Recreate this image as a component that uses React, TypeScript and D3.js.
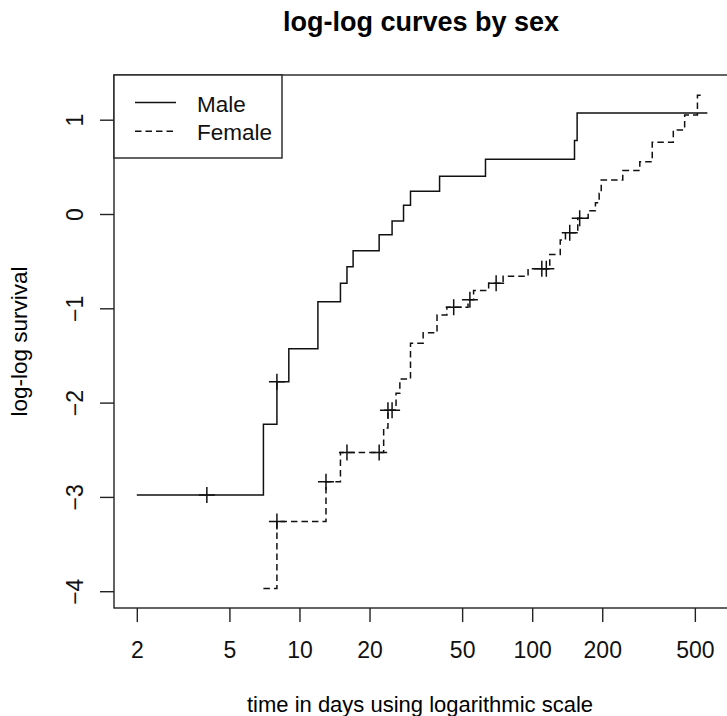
import React, { useEffect, useRef } from "react";
import * as d3 from "d3";

// step times (days) and log(-log S(t)) levels
const maleTimes = [2, 7, 8, 9, 12, 15, 16, 17, 22, 25, 28, 30, 40, 63, 152, 156];
const maleLogLog = [-2.98, -2.23, -1.78, -1.43, -0.93, -0.735, -0.56, -0.39, -0.22, -0.074, 0.092, 0.24, 0.4, 0.58, 0.78, 1.07];
const maleEnd = 566;
const maleCensor = [4, 8];

const femaleTimes = [7, 8, 13, 15, 23, 24, 26, 27, 30, 34, 39, 43, 53, 56, 65, 75, 96, 119, 132, 139, 157, 174, 187, 194, 198, 245, 290, 328, 404, 452, 513];
const femaleLogLog = [-3.97, -3.26, -2.84, -2.53, -2.27, -2.08, -1.9, -1.75, -1.37, -1.26, -1.07, -0.99, -0.91, -0.81, -0.735, -0.66, -0.58, -0.43, -0.275, -0.2, -0.046, 0.035, 0.12, 0.22, 0.36, 0.46, 0.555, 0.76, 0.89, 1.05, 1.26];
const femaleEnd = 546;
const femaleCensor = [8, 13, 16, 22, 24, 25, 46, 54, 70, 110, 115, 145, 160];

const xTicks = [2, 5, 10, 20, 50, 100, 200, 500];
const yTicks = [-4, -3, -2, -1, 0, 1];
const legendLabels = ["Male", "Female"];

const W = 727;
const H = 716;
const FONT = "Arial, 'Liberation Sans', sans-serif";

function App() {
  const ref = useRef<SVGSVGElement>(null);

  useEffect(() => {
    const svg = d3.select(ref.current);
    svg.selectAll("*").remove();

    const left = 114, top = 75, right = 729, bottom = 608;
    const x = d3.scaleLog().domain([1.596, 701]).range([left, right]);
    const y = d3.scaleLinear().domain([-4.178, 1.474]).range([bottom, top]);

    // title and axis titles
    svg.append("text").attr("x", 421).attr("y", 31).attr("text-anchor", "middle")
      .style("font-family", FONT).style("font-size", "27px").style("font-weight", "bold")
      .text("log-log curves by sex");
    svg.append("text").attr("x", 420).attr("y", 712).attr("text-anchor", "middle")
      .style("font-family", FONT).style("font-size", "22px")
      .text("time in days using logarithmic scale");
    svg.append("text").attr("transform", `translate(27, ${(top + bottom) / 2}) rotate(-90)`)
      .attr("text-anchor", "middle")
      .style("font-family", FONT).style("font-size", "22.5px")
      .text("log-log survival");

    // axes
    const xAxis = svg.append("g").attr("transform", `translate(0, ${bottom})`)
      .call(d3.axisBottom(x).tickValues(xTicks).tickFormat(d3.format("d")).tickSize(14).tickPadding(20));
    const yAxis = svg.append("g").attr("transform", `translate(${left}, 0)`)
      .call(d3.axisLeft(y).tickValues(yTicks).tickFormat(d3.format("d")).tickSize(14));
    [xAxis, yAxis].forEach(g => {
      g.select(".domain").remove();
      g.selectAll(".tick line").attr("stroke", "#222").attr("stroke-width", 1.4);
      g.selectAll(".tick text").style("font-family", FONT).style("font-size", "23px").attr("fill", "#111");
    });
    xAxis.selectAll(".tick text").attr("dy", null).attr("y", 50);
    yAxis.selectAll(".tick text")
      .attr("x", null).attr("dy", null)
      .attr("text-anchor", "middle")
      .attr("transform", "translate(-31, 0) rotate(-90)");

    // plot box
    svg.append("rect").attr("x", left).attr("y", top).attr("width", right - left).attr("height", bottom - top)
      .attr("fill", "none").attr("stroke", "#222").attr("stroke-width", 1.4);

    const line = d3.line<[number, number]>().x(d => x(d[0])).y(d => y(d[1])).curve(d3.curveStepAfter);

    const series = [
      { times: maleTimes, vals: maleLogLog, end: maleEnd, censor: maleCensor, dash: null },
      { times: femaleTimes, vals: femaleLogLog, end: femaleEnd, censor: femaleCensor, dash: "6.5,4" },
    ];

    series.forEach(s => {
      const pts: [number, number][] = s.times.map((t, i) => [t, s.vals[i]]);
      pts.push([s.end, s.vals[s.vals.length - 1]]);
      svg.append("path").attr("d", line(pts)).attr("fill", "none")
        .attr("stroke", "#111").attr("stroke-width", 1.5)
        .attr("stroke-dasharray", s.dash);

      const marks = s.censor.map(t => {
        const i = d3.bisectRight(s.times, t) - 1;
        return [x(t), y(s.vals[Math.max(i, 0)])];
      });
      svg.append("g").selectAll("path").data(marks).join("path")
        .attr("d", d => `M${d[0] - 8},${d[1]}H${d[0] + 8}M${d[0]},${d[1] - 8}V${d[1] + 8}`)
        .attr("stroke", "#111").attr("stroke-width", 1.5).attr("fill", "none");
    });

    // legend
    const lg = svg.append("g");
    lg.append("rect").attr("x", left).attr("y", top).attr("width", 168).attr("height", 83)
      .attr("fill", "white").attr("stroke", "#222").attr("stroke-width", 1.4);
    legendLabels.forEach((lab, i) => {
      const ly = 102.5 + i * 28.7;
      lg.append("line").attr("x1", 135).attr("x2", 176).attr("y1", ly).attr("y2", ly)
        .attr("stroke", "#111").attr("stroke-width", 1.5)
        .attr("stroke-dasharray", i === 1 ? "6.5,4" : null);
      lg.append("text").attr("x", 197).attr("y", ly + 9)
        .style("font-family", FONT).style("font-size", "22.5px").attr("fill", "#111")
        .text(lab);
    });
  }, []);

  return (
    <svg ref={ref} width={W} height={H}
      style={{ position: "absolute", left: 0, top: 0, background: "white", display: "block" }} />
  );
}

export default App;
